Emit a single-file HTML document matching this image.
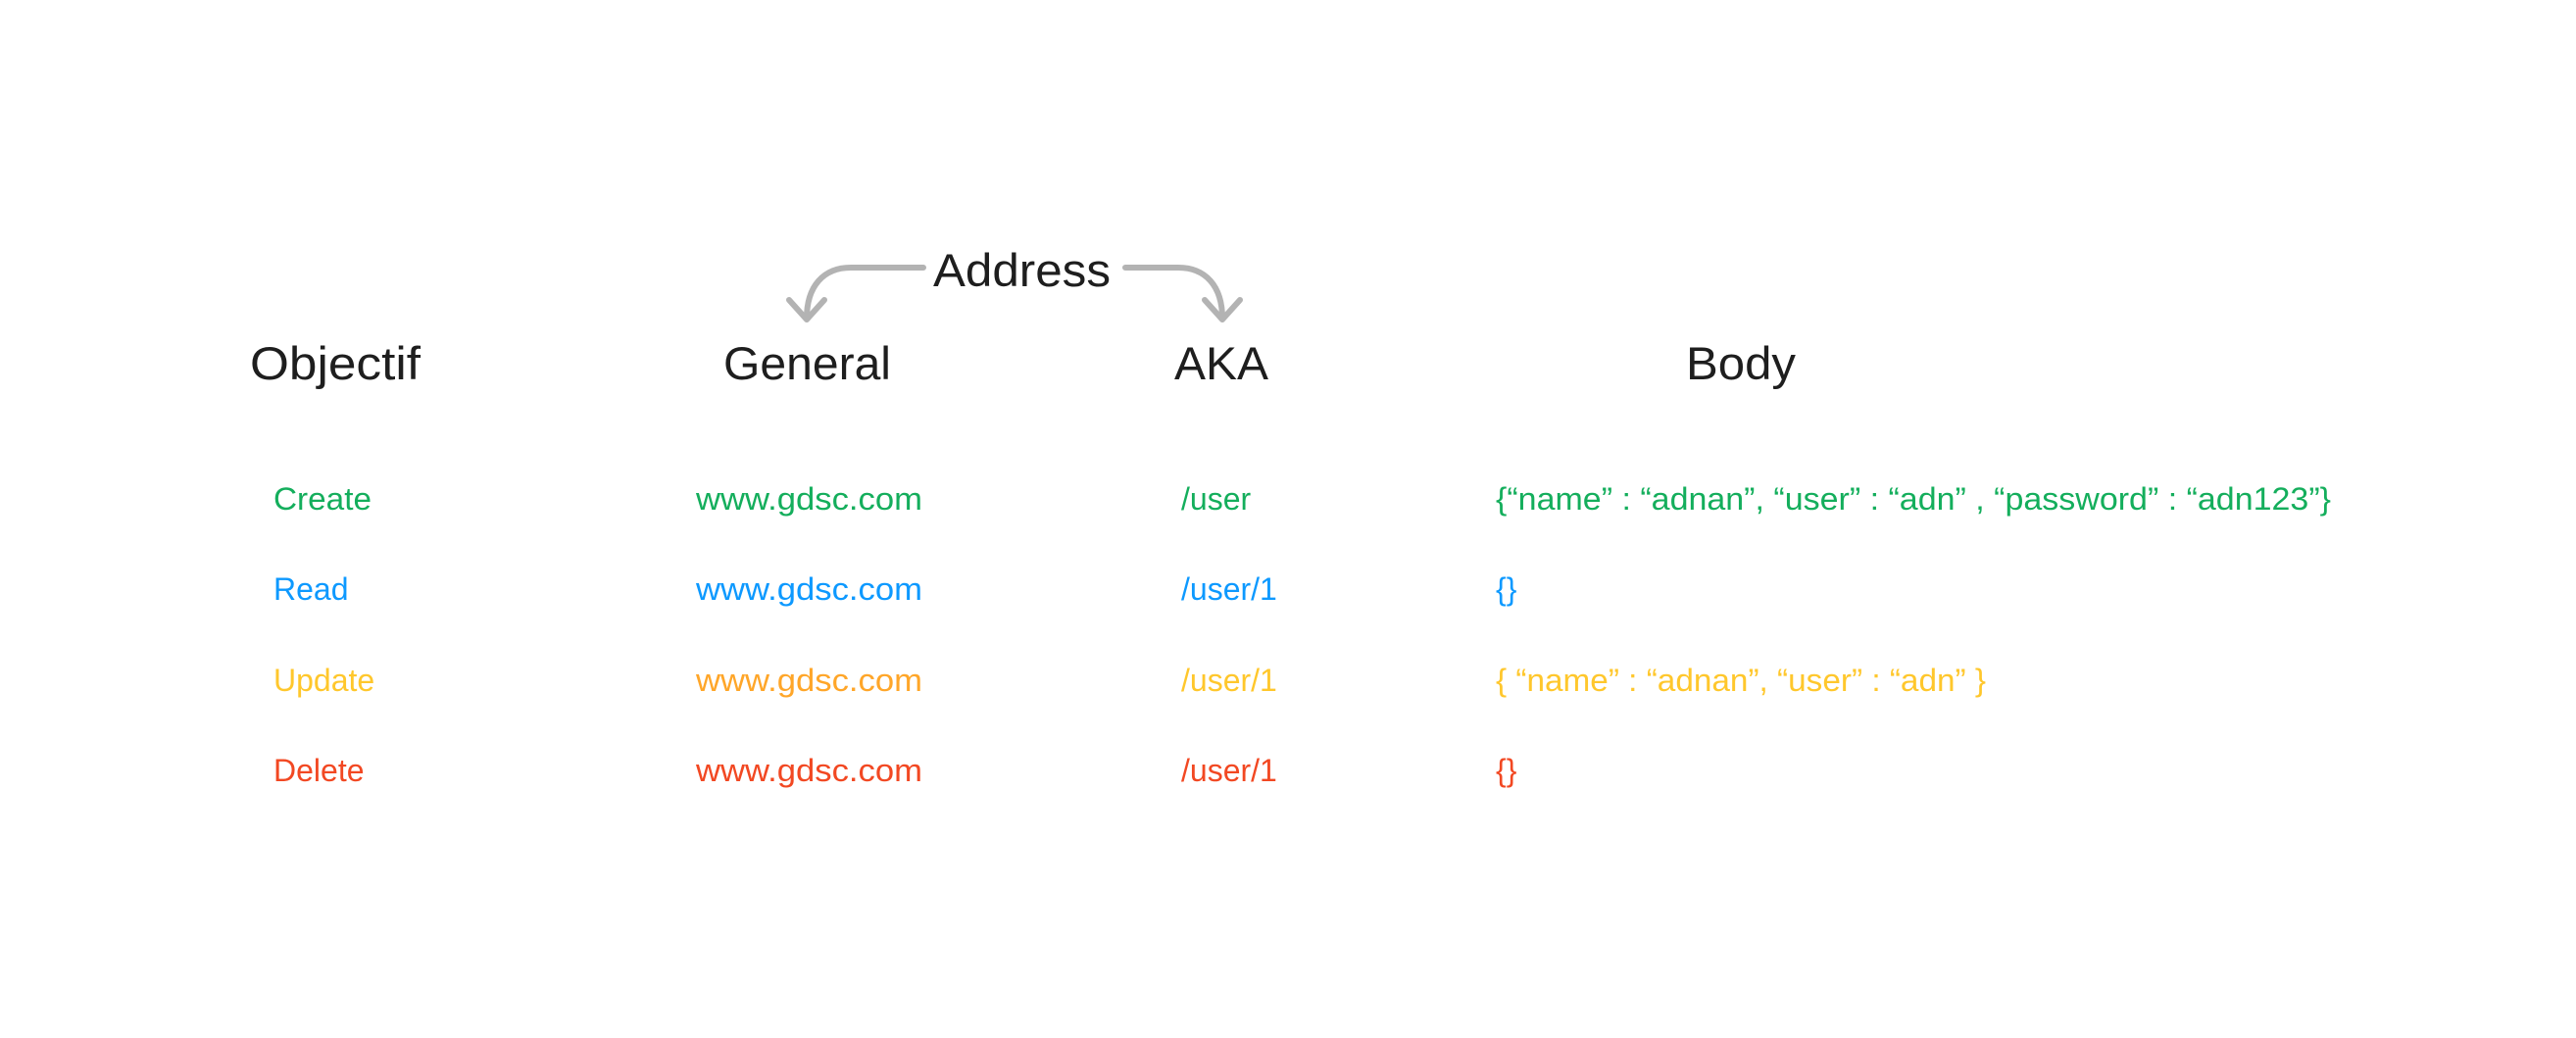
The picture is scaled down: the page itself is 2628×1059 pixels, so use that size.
<!DOCTYPE html>
<html><head><style>html,body{margin:0;padding:0;background:#fff;}svg{display:block}</style></head>
<body>
<svg width="2628" height="1059" viewBox="0 0 2628 1059" xmlns="http://www.w3.org/2000/svg" font-family="Liberation Sans, sans-serif">
<rect width="2628" height="1059" fill="#fff"/>
<g fill="none" stroke="#b3b3b3" stroke-width="6" stroke-linecap="round" stroke-linejoin="round">
<path d="M942 273 H868 C840 273 823 292 823 325"/>
<path d="M805 306 L823 326 L841 306"/>
<path d="M1148 273 H1202 C1230 273 1247 292 1247 325"/>
<path d="M1229 306 L1247 326 L1265 306"/>
</g>
<g fill="#1e1e1e" font-size="47">
<text x="952" y="292" textLength="181" lengthAdjust="spacingAndGlyphs">Address</text>
<text x="255" y="387" textLength="174" lengthAdjust="spacingAndGlyphs">Objectif</text>
<text x="738" y="387" textLength="171" lengthAdjust="spacingAndGlyphs">General</text>
<text x="1198" y="387" textLength="96" lengthAdjust="spacingAndGlyphs">AKA</text>
<text x="1720" y="387" textLength="112" lengthAdjust="spacingAndGlyphs">Body</text>
</g>
<g font-size="32">
<g fill="#14ae5c">
<text x="279" y="520" textLength="100" lengthAdjust="spacingAndGlyphs">Create</text>
<text x="710" y="520" textLength="231" lengthAdjust="spacingAndGlyphs">www.gdsc.com</text>
<text x="1205" y="520">/user</text>
<text x="1526" y="520" textLength="852" lengthAdjust="spacingAndGlyphs">{“name” : “adnan”, “user” : “adn”  , “password” : “adn123”}</text>
</g>
<g fill="#0d99ff">
<text x="279" y="612">Read</text>
<text x="710" y="612" textLength="231" lengthAdjust="spacingAndGlyphs">www.gdsc.com</text>
<text x="1205" y="612">/user/1</text>
<text x="1526" y="612">{}</text>
</g>
<g fill="#ffc72c">
<text x="279" y="705">Update</text>
<text x="710" y="705" textLength="231" lengthAdjust="spacingAndGlyphs" fill="#ffa629">www.gdsc.com</text>
<text x="1205" y="705">/user/1</text>
<text x="1526" y="705" textLength="500" lengthAdjust="spacingAndGlyphs">{ “name” : “adnan”, “user” : “adn” }</text>
</g>
<g fill="#f24822">
<text x="279" y="797">Delete</text>
<text x="710" y="797" textLength="231" lengthAdjust="spacingAndGlyphs">www.gdsc.com</text>
<text x="1205" y="797">/user/1</text>
<text x="1526" y="797">{}</text>
</g>
</g>
</svg>
</body></html>
